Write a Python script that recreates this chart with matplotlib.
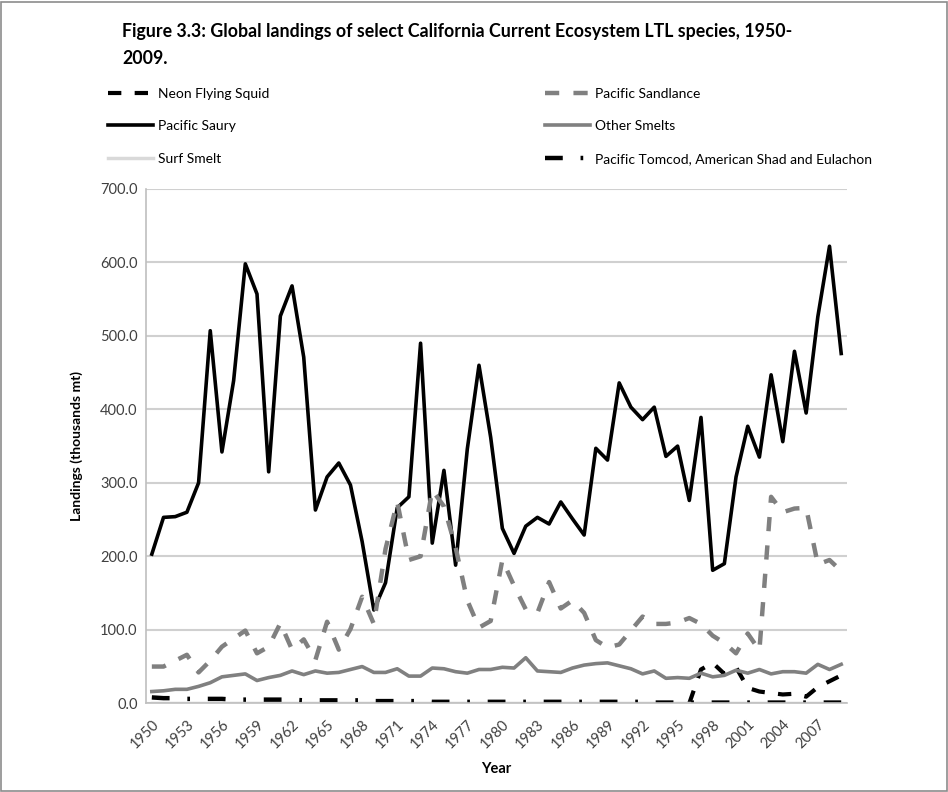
import matplotlib
matplotlib.use("Agg")
import matplotlib.pyplot as plt
from matplotlib.patches import Rectangle
import numpy as np

plt.rcParams['font.family'] = ['Lato', 'DejaVu Sans']

years = list(range(1950, 2010))

# Landings, thousands of metric tons
pacific_saury = [203, 253, 254, 260, 300, 507, 342, 439, 598, 557,
                 315, 527, 568, 471, 263, 308, 327, 297, 220, 127,
                 164, 266, 281, 490, 218, 317, 188, 346, 460, 362,
                 238, 204, 241, 253, 244, 274, 251, 229, 347, 331,
                 436, 403, 386, 403, 336, 350, 276, 389, 181, 190,
                 308, 377, 335, 447, 356, 479, 395, 526, 622, 476]

pacific_sandlance = [50, 50, 58, 66, 42, 58, 77, 88, 99, 68,
                     77, 109, 73, 87, 59, 111, 73, 101, 145, 108,
                     210, 274, 195, 200, 290, 268, 212, 140, 103, 112,
                     195, 160, 128, 123, 165, 129, 140, 123, 86, 76,
                     80, 99, 118, 108, 108, 110, 116, 108, 92, 82,
                     68, 95, 72, 281, 260, 265, 266, 189, 195, 180]

other_smelts = [16, 17, 19, 19, 23, 28, 36, 38, 40, 31,
                35, 38, 44, 39, 44, 41, 42, 46, 50, 42,
                42, 47, 37, 37, 48, 47, 43, 41, 46, 46,
                49, 48, 62, 44, 43, 42, 48, 52, 54, 55,
                51, 47, 40, 44, 34, 35, 34, 41, 36, 38,
                45, 41, 46, 40, 43, 43, 41, 53, 46, 53]

surf_smelt = [1.0] * 60

neon_flying_squid = [np.nan] * 46 + [0, 46, 55, 40, 49, 21, 16, 14, 12, 13, 9, 22, 30, 38]

tomcod_shad_eulachon = [8, 7, 7, 6, 6, 6, 6, 5, 5, 5,
                        5, 5, 5, 4, 4, 4, 4, 4, 4, 3,
                        3, 3, 3, 3, 2, 2, 2, 2, 2, 2,
                        2, 2, 2, 2, 2, 2, 2, 2, 2, 2,
                        2, 2, 2, 1, 1, 1, 1, 1, 1, 1,
                        1, 1, 1, 1, 1, 1, 1, 1, 1, 1]

tick_years = [str(y) for y in range(1950, 2010, 3)]

fig = plt.figure(figsize=(9.48, 7.92), dpi=100)
ax = fig.add_axes([0.154, 0.112, 0.7395, 0.6495])

x = np.arange(len(years))
h_squid, = ax.plot(x, neon_flying_squid, color='black', lw=3,
                   linestyle=(0, (3.2, 3.2)), label='Neon Flying Squid')
h_saury, = ax.plot(x, pacific_saury, color='black', lw=2.6,
                   label='Pacific Saury')
h_surf, = ax.plot(x, surf_smelt, color='#d9d9d9', lw=2.5,
                  label='Surf Smelt')
h_sand, = ax.plot(x, pacific_sandlance, color='#808080', lw=3.2,
                  linestyle=(0, (3.2, 3.2)), label='Pacific Sandlance')
h_other, = ax.plot(x, other_smelts, color='#808080', lw=2.6,
                   label='Other Smelts')
h_tom, = ax.plot(x, tomcod_shad_eulachon, color='black', lw=3.2,
                 linestyle=(0, (4, 4, 0.6, 4)),
                 label='Pacific Tomcod, American Shad and Eulachon')

ax.set_xlim(-0.5, len(years) - 0.5)
ax.set_ylim(0, 700)
ax.set_yticks(np.arange(0, 701, 100))
ax.set_yticklabels([f'{v:.1f}' for v in range(0, 701, 100)])
ax.set_xticks(np.arange(0, len(years), 3))
ax.set_xticklabels(tick_years, rotation=45, ha='right', rotation_mode='anchor')
ax.tick_params(length=0, labelsize=10.5, colors='#404040', pad=6)
ax.tick_params(axis='x', pad=10)

ax.grid(axis='y', color='#d0d0d0', lw=1.5)
ax.set_axisbelow(True)
for side in ['top', 'right']:
    ax.spines[side].set_visible(False)
for side in ['left', 'bottom']:
    ax.spines[side].set_color('#bfbfbf')
    ax.spines[side].set_linewidth(1.2)

ax.set_ylabel('Landings (thousands mt)', fontsize=10, fontweight='bold', labelpad=12)
ax.set_xlabel('Year', fontsize=10.5, fontweight='bold', labelpad=8)

fig.text(122 / 948, 1 - 32 / 792,
         'Figure 3.3: Global landings of select California Current Ecosystem LTL species, 1950-',
         fontsize=12.8, fontweight='bold', va='center', ha='left')
fig.text(122 / 948, 1 - 59 / 792, '2009.',
         fontsize=12.8, fontweight='bold', va='center', ha='left')

handles = [h_squid, h_saury, h_surf, h_sand, h_other, h_tom]
fig.legend(handles=handles, labels=[h.get_label() for h in handles],
           ncol=2, loc='upper left', bbox_to_anchor=(95 / 948, 1 - 75 / 792),
           frameon=False, fontsize=10, handlelength=3.3, handletextpad=0.35,
           columnspacing=19.8, labelspacing=1.5)

fig.patches.append(Rectangle((0.001, 0.001), 0.998, 0.996, transform=fig.transFigure,
                             fill=False, edgecolor='#8c8c8c', lw=1.2))

fig.savefig('out.png', dpi=100)
